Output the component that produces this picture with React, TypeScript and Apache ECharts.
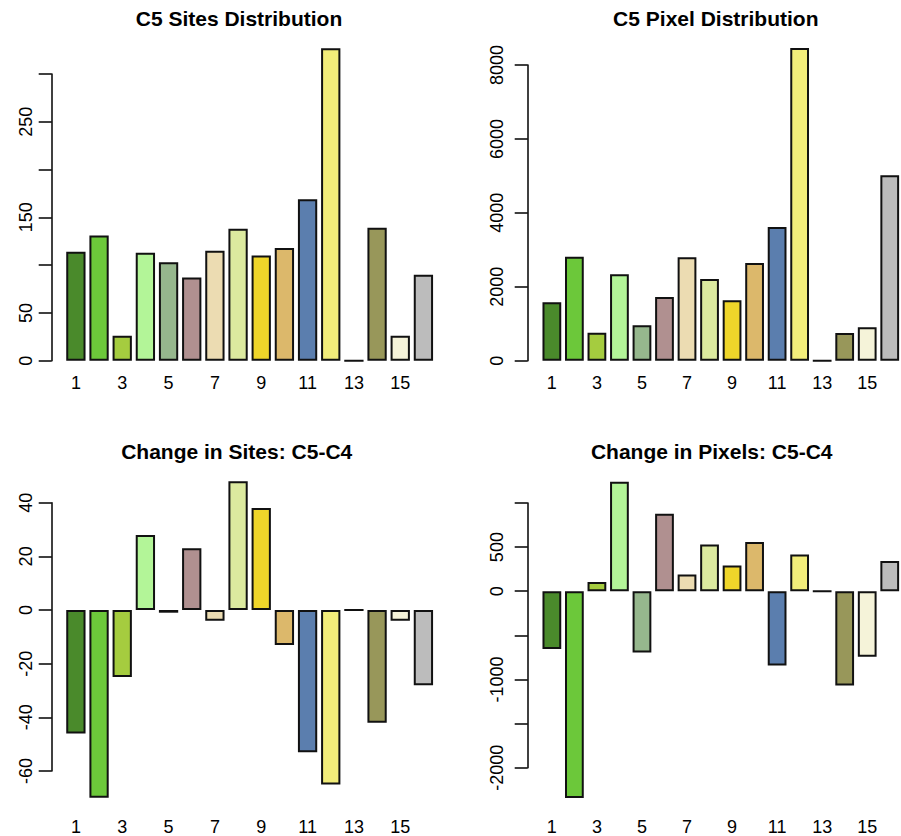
import React, { useEffect, useRef } from "react";
import * as echarts from "echarts";

// ---- data ----
const categories = ["1", "2", "3", "4", "5", "6", "7", "8", "9", "10", "11", "12", "13", "14", "15", "16"];
const sitesC5 = [114, 131, 26, 113, 103, 87, 115, 138, 110, 118, 169, 327, 0, 139, 26, 90];
const pixelsC5 = [1580, 2814, 758, 2338, 957, 1723, 2797, 2210, 1634, 2643, 3617, 8460, 0, 749, 903, 5016];
const sitesChange = [-46, -70, -25, 28, -1, 23, -4, 48, 38, -13, -53, -65, 0, -42, -4, -28];
const pixelsChange = [-655, -2344, 106, 1242, -693, 878, 189, 530, 292, 557, -841, 417, 0, -1068, -742, 344];
const barColors = [
  "#4a8a2b", "#6cc83a", "#a5cc3f", "#b3f598", "#96b78d", "#b09090", "#ecdcb2", "#dcea9f",
  "#efd62a", "#dcb86b", "#5b7eae", "#f2ed7a", "#ffffff", "#98975a", "#f5f3d9", "#bcbcbc",
];
const panelTitles = [
  "C5 Sites Distribution",
  "C5 Pixel Distribution",
  "Change in Sites: C5-C4",
  "Change in Pixels: C5-C4",
];
const sitesTickLabels = [0, 50, 150, 250];
const pixelsTickLabels = [0, 2000, 4000, 6000, 8000];
const sitesChangeTickLabels = [-60, -40, -20, 0, 20, 40];
const pixelsChangeTickLabels = [-2000, -1000, 0, 500];

const FONT = '"Liberation Sans", Arial, Helvetica, sans-serif';

export default function App() {
  const ref = useRef<HTMLDivElement>(null);

  useEffect(() => {
    if (!ref.current) return;
    const chart = echarts.init(ref.current, null, { renderer: "svg" });

    const panels = [
      { data: sitesC5, min: 0, max: 300, interval: 50, labels: sitesTickLabels,
        grid: { left: 64.3, width: 370.7, top: 74, height: 286.7 }, yOff: 12.6, yMargin: 17, xMargin: 13 },
      { data: pixelsC5, min: 0, max: 8000, interval: 2000, labels: pixelsTickLabels,
        grid: { left: 540.6, width: 370.1, top: 65, height: 295.7 }, yOff: 12.9, yMargin: 22, xMargin: 13 },
      { data: sitesChange, min: -60, max: 40, interval: 20, labels: sitesChangeTickLabels,
        grid: { left: 64.3, width: 370.7, top: 502.7, height: 268.3 }, yOff: 12.6, yMargin: 17, xMargin: 47 },
      { data: pixelsChange, min: -2000, max: 1000, interval: 500, labels: pixelsChangeTickLabels,
        grid: { left: 540.6, width: 370.1, top: 503, height: 264.7 }, yOff: 12.9, yMargin: 22, xMargin: 50 },
    ];
    const titlePos = [
      [239, 18.3],
      [715.8, 18.3],
      [236.7, 451.7],
      [711.7, 451.7],
    ];

    const option: any = {
      animation: false,
      backgroundColor: "#ffffff",
      color: barColors,
      textStyle: { fontFamily: FONT },
      grid: panels.map((p) => ({ ...p.grid, containLabel: false })),
      xAxis: panels.map((p, i) => ({
        gridIndex: i,
        type: "category",
        data: categories,
        axisLine: { show: false, onZero: false },
        axisTick: { show: false },
        splitLine: { show: false },
        axisLabel: { interval: 1, margin: p.xMargin, fontSize: 18, color: "#000", fontFamily: FONT },
      })),
      yAxis: panels.map((p, i) => ({
        gridIndex: i,
        type: "value",
        min: p.min,
        max: p.max,
        interval: p.interval,
        offset: p.yOff,
        axisLine: { show: true, lineStyle: { color: "#000", width: 1.5 } },
        axisTick: { show: true, inside: false, length: 13, lineStyle: { color: "#000", width: 1.5 } },
        splitLine: { show: false },
        axisLabel: {
          rotate: 90,
          margin: p.yMargin,
          fontSize: 18,
          color: "#000",
          fontFamily: FONT,
          formatter: (v: number) => (p.labels.indexOf(v) >= 0 ? String(v) : ""),
        },
      })),
      series: panels.map((p, i) => ({
        type: "bar",
        xAxisIndex: i,
        yAxisIndex: i,
        data: p.data,
        colorBy: "data",
        clip: false,
        barCategoryGap: "16.7%",
        itemStyle: { borderColor: "#111", borderWidth: 2 },
      })),
      graphic: panelTitles.map((t, i) => ({
        type: "text",
        x: titlePos[i][0],
        y: titlePos[i][1],
        style: {
          text: t,
          fill: "#000",
          font: `bold 21px ${FONT}`,
          textAlign: "center",
          textVerticalAlign: "middle",
        },
      })),
    };

    chart.setOption(option);
    return () => chart.dispose();
  }, []);

  return (
    <div
      ref={ref}
      style={{ position: "absolute", left: 0, top: 0, width: 901, height: 836, overflow: "hidden" }}
    />
  );
}
